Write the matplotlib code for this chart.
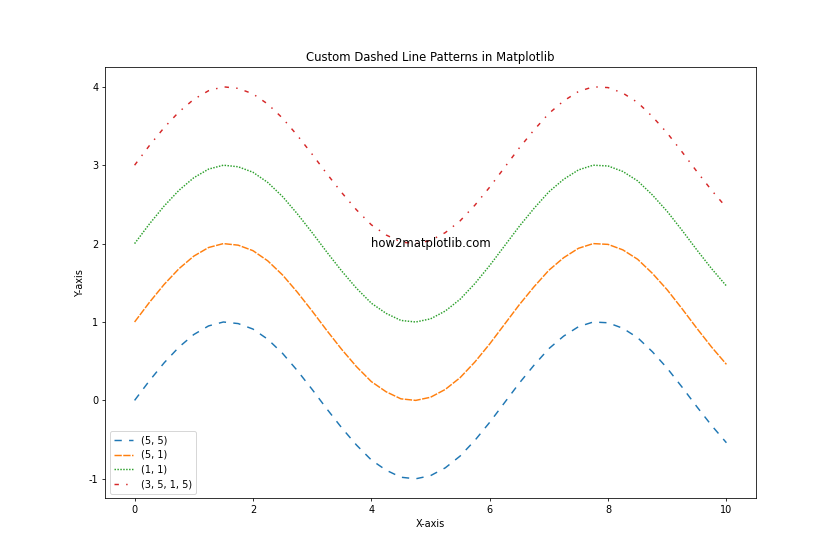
import numpy as np
import matplotlib.pyplot as plt

plt.rcParams['axes.unicode_minus'] = False

# x positions and values
x = [0, 0.25, 0.5, 0.75, 1, 1.25, 1.5, 1.75, 2, 2.25, 2.5, 2.75, 3, 3.25, 3.5,
     3.75, 4, 4.25, 4.5, 4.75, 5, 5.25, 5.5, 5.75, 6, 6.25, 6.5, 6.75, 7, 7.25,
     7.5, 7.75, 8, 8.25, 8.5, 8.75, 9, 9.25, 9.5, 9.75, 10]

y_55 = [0.00, 0.25, 0.48, 0.68, 0.84, 0.95, 1.00, 0.98, 0.91, 0.78, 0.60, 0.38,
        0.14, -0.11, -0.35, -0.57, -0.76, -0.89, -0.98, -1.00, -0.96, -0.86,
        -0.71, -0.51, -0.28, -0.03, 0.22, 0.45, 0.66, 0.82, 0.94, 1.00, 0.99,
        0.92, 0.80, 0.62, 0.41, 0.17, -0.08, -0.32, -0.54]
y_51 = [1.00, 1.25, 1.48, 1.68, 1.84, 1.95, 2.00, 1.98, 1.91, 1.78, 1.60, 1.38,
        1.14, 0.89, 0.65, 0.43, 0.24, 0.11, 0.02, 0.00, 0.04, 0.14,
        0.29, 0.49, 0.72, 0.97, 1.22, 1.45, 1.66, 1.82, 1.94, 2.00, 1.99,
        1.92, 1.80, 1.62, 1.41, 1.17, 0.92, 0.68, 0.46]
y_11 = [2.00, 2.25, 2.48, 2.68, 2.84, 2.95, 3.00, 2.98, 2.91, 2.78, 2.60, 2.38,
        2.14, 1.89, 1.65, 1.43, 1.24, 1.11, 1.02, 1.00, 1.04, 1.14,
        1.29, 1.49, 1.72, 1.97, 2.22, 2.45, 2.66, 2.82, 2.94, 3.00, 2.99,
        2.92, 2.80, 2.62, 2.41, 2.17, 1.92, 1.68, 1.46]
y_3515 = [3.00, 3.25, 3.48, 3.68, 3.84, 3.95, 4.00, 3.98, 3.91, 3.78, 3.60, 3.38,
          3.14, 2.89, 2.65, 2.43, 2.24, 2.11, 2.02, 2.00, 2.04, 2.14,
          2.29, 2.49, 2.72, 2.97, 3.22, 3.45, 3.66, 3.82, 3.94, 4.00, 3.99,
          3.92, 3.80, 3.62, 3.41, 3.17, 2.92, 2.68, 2.46]

series = [('(5, 5)', y_55, (5, 5)),
          ('(5, 1)', y_51, (5, 1)),
          ('(1, 1)', y_11, (1, 1)),
          ('(3, 5, 1, 5)', y_3515, (3, 5, 1, 5))]

fig, ax = plt.subplots(figsize=(12, 8), dpi=70)
for label, y, dash in series:
    ax.plot(x, y, dashes=dash, label=label)

ax.set_title('Custom Dashed Line Patterns in Matplotlib')
ax.set_xlabel('X-axis')
ax.set_ylabel('Y-axis')
ax.legend(loc='lower left')
ax.text(5, 2, 'how2matplotlib.com', fontsize=12, ha='center', va='center')

plt.savefig('out.png')
